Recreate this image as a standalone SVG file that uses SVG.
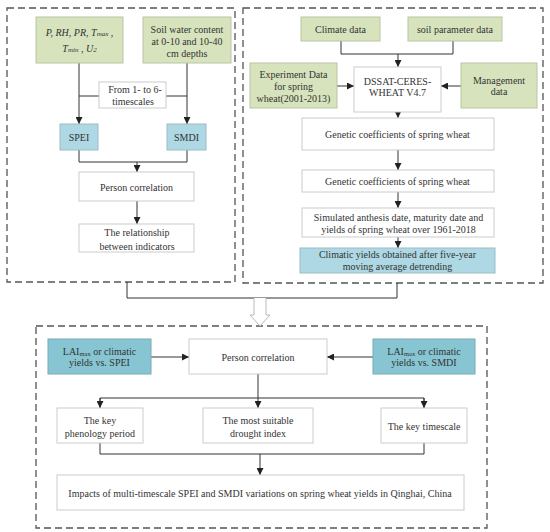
<svg xmlns="http://www.w3.org/2000/svg" width="550" height="532" viewBox="0 0 550 532">
<defs>
<marker id="ah" viewBox="0 0 10 10" refX="10" refY="5" markerWidth="7" markerHeight="7" orient="auto" markerUnits="userSpaceOnUse">
<path d="M0,0 L10,5 L0,10 z" fill="#222"/>
</marker>
<style>
text{font-family:"Liberation Serif","Times New Roman",serif;font-size:10px;fill:#333;text-anchor:middle;dominant-baseline:central}
.g{fill:#d7e3bd;stroke:#b9c6a3;stroke-width:1}
.b{fill:#aed8e3;stroke:#9bbcc6;stroke-width:1}
.bd{fill:#86c5d1;stroke:#7aaab4;stroke-width:1}
.w{fill:#fff;stroke:#ccc;stroke-width:1}
.dash{fill:none;stroke:#555;stroke-width:1.3;stroke-dasharray:7,4}
.c{fill:none;stroke:#333;stroke-width:1}
.ca{fill:none;stroke:#333;stroke-width:1;marker-end:url(#ah)}
.it{font-style:italic}
</style>
</defs>
<rect width="550" height="532" fill="#fff"/>
<g id="frames">
<rect class="dash" x="7" y="8" width="228" height="274"/>
<rect class="dash" x="243" y="8" width="300" height="275"/>
<rect class="dash" x="36" y="326" width="451" height="202"/>
</g>
<g id="connectors">
<line class="ca" x1="79" y1="63" x2="79" y2="124"/>
<line class="ca" x1="187" y1="63" x2="187" y2="124"/>
<line class="c" x1="79" y1="96" x2="99" y2="96"/>
<line class="c" x1="166" y1="96" x2="187" y2="96"/>
<polyline class="c" points="79,150 79,162 187,162 187,150"/>
<line class="ca" x1="137" y1="162" x2="137" y2="172"/>
<line class="ca" x1="137" y1="201" x2="137" y2="224"/>
<polyline class="c" points="341,41 341,54 453,54 453,41"/>
<line class="ca" x1="398" y1="54" x2="398" y2="67"/>
<line class="ca" x1="337" y1="86" x2="354" y2="86"/>
<line class="ca" x1="461" y1="86" x2="441" y2="86"/>
<line class="ca" x1="398" y1="112" x2="398" y2="118"/>
<line class="ca" x1="398" y1="150" x2="398" y2="170"/>
<line class="ca" x1="398" y1="192" x2="398" y2="208"/>
<line class="ca" x1="398" y1="237" x2="398" y2="248"/>
<polyline class="c" points="127,282 127,298 397,298 397,283"/>
<path d="M254,298 L254,315 L250,315 L260,326 L270,315 L266,315 L266,298" fill="#fff" stroke="#bbb" stroke-width="1"/>
<line class="ca" x1="151" y1="357" x2="189" y2="357"/>
<line class="ca" x1="373" y1="357" x2="327" y2="357"/>
<line class="ca" x1="258" y1="374" x2="258" y2="408"/>
<polyline class="c" points="100,408 100,398 424,398 424,408"/>
<line class="ca" x1="100" y1="398" x2="100" y2="408"/>
<line class="ca" x1="424" y1="398" x2="424" y2="408"/>
<polyline class="c" points="100,443 100,454 424,454 424,443"/>
<line class="ca" x1="260" y1="454" x2="260" y2="475"/>
</g>
<g id="n-met">
<rect class="g" x="36" y="17" width="87" height="46"/>
<text x="79.5" y="32" class="it">P, RH, PR, T<tspan font-size="7" dy="2">max</tspan><tspan dy="-2"> ,</tspan></text>
<text x="79.5" y="48" class="it">T<tspan font-size="7" dy="2">min</tspan><tspan dy="-2"> , U</tspan><tspan font-size="7" dy="2">2</tspan></text>
</g>
<g id="n-soil">
<rect class="g" x="143" y="17" width="88" height="46"/>
<text x="187" y="29">Soil water content</text>
<text x="187" y="41">at 0-10 and 10-40</text>
<text x="187" y="53">cm depths</text>
</g>
<g id="n-from">
<rect class="w" x="99" y="82" width="67" height="26"/>
<text x="135" y="89" font-size="11">From 1- to 6-</text>
<text x="133" y="101" font-size="11">timescales</text>
</g>
<g id="n-spei">
<rect class="b" x="60" y="124" width="38" height="26"/>
<text x="79" y="137">SPEI</text>
</g>
<g id="n-smdi">
<rect class="b" x="167" y="124" width="39" height="26"/>
<text x="186.5" y="137">SMDI</text>
</g>
<g id="n-pc1">
<rect class="w" x="79" y="172" width="115" height="29"/>
<text x="136.5" y="187">Person correlation</text>
</g>
<g id="n-rel">
<rect class="w" x="79" y="224" width="115" height="28"/>
<text x="137" y="232" font-size="12">The relationship</text>
<text x="137" y="246" font-size="12">between indicators</text>
</g>
<g id="n-climate">
<rect class="g" x="301" y="17" width="79" height="24"/>
<text x="340.5" y="29">Climate data</text>
</g>
<g id="n-soilp">
<rect class="g" x="408" y="17" width="94" height="24"/>
<text x="455" y="29">soil parameter data</text>
</g>
<g id="n-exp">
<rect class="g" x="250" y="63" width="87" height="45"/>
<text x="293.5" y="74">Experiment Data</text>
<text x="293.5" y="86">for spring</text>
<text x="293.5" y="98">wheat(2001-2013)</text>
</g>
<g id="n-dssat">
<rect class="w" x="354" y="67" width="87" height="45"/>
<text x="397.5" y="81">DSSAT-CERES-</text>
<text x="397.5" y="92">WHEAT V4.7</text>
</g>
<g id="n-mgmt">
<rect class="g" x="461" y="63" width="76" height="45"/>
<text x="499" y="80">Management</text>
<text x="499" y="91">data</text>
</g>
<g id="n-gen1">
<rect class="w" x="302" y="118" width="192" height="32"/>
<text x="397.5" y="134">Genetic coefficients of spring wheat</text>
</g>
<g id="n-gen2">
<rect class="w" x="302" y="170" width="192" height="22"/>
<text x="397.5" y="181.5">Genetic coefficients of spring wheat</text>
</g>
<g id="n-sim">
<rect class="w" x="302" y="208" width="192" height="29"/>
<text x="398.5" y="217">Simulated anthesis date, maturity date and</text>
<text x="398.5" y="229">yields of spring wheat over 1961-2018</text>
</g>
<g id="n-climy">
<rect class="b" x="300" y="248" width="195" height="25"/>
<text x="397.5" y="254.5">Climatic yields obtained after five-year</text>
<text x="397.5" y="266.5">moving average detrending</text>
</g>
<g id="n-laispei">
<rect class="bd" x="48" y="339" width="103" height="35"/>
<text x="99.5" y="351">LAI<tspan font-size="6.5" dy="1.5">max</tspan><tspan dy="-1.5"> or climatic</tspan></text>
<text x="99.5" y="362">yields vs. SPEI</text>
</g>
<g id="n-pc2">
<rect class="w" x="189" y="339" width="138" height="35"/>
<text x="258" y="357">Person correlation</text>
</g>
<g id="n-laismdi">
<rect class="bd" x="373" y="339" width="102" height="35"/>
<text x="424" y="351">LAI<tspan font-size="6.5" dy="1.5">max</tspan><tspan dy="-1.5"> or climatic</tspan></text>
<text x="424" y="362">yields vs. SMDI</text>
</g>
<g id="n-pheno">
<rect class="w" x="57" y="408" width="86" height="35"/>
<text x="100" y="420">The key</text>
<text x="100" y="433">phenology period</text>
</g>
<g id="n-index">
<rect class="w" x="203" y="408" width="110" height="35"/>
<text x="258" y="420">The most suitable</text>
<text x="258" y="433">drought index</text>
</g>
<g id="n-tscale">
<rect class="w" x="381" y="408" width="86" height="35"/>
<text x="424" y="426">The key timescale</text>
</g>
<g id="n-impacts">
<rect class="w" x="57" y="475" width="407" height="35"/>
<text x="260" y="493">Impacts of multi-timescale SPEI and SMDI variations on spring wheat yields in Qinghai, China</text>
</g>
</svg>
